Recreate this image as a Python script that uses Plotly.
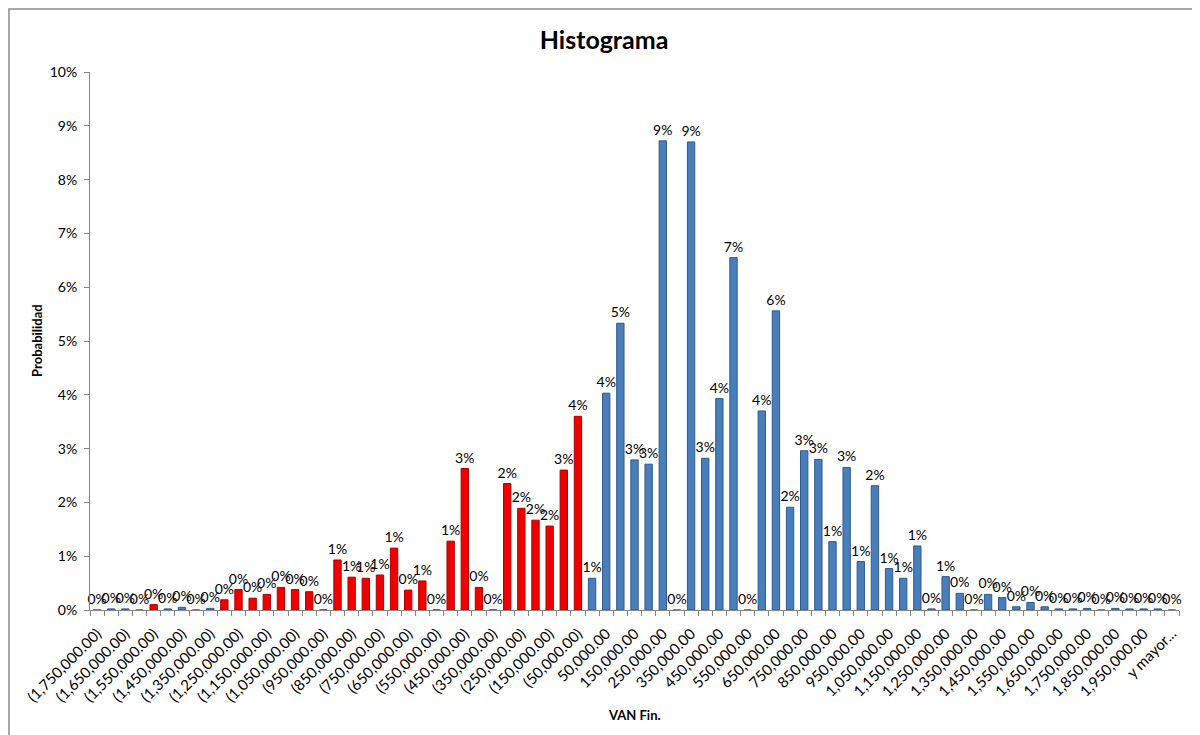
import plotly.graph_objects as go

# histogram bins (VAN Fin.), step 50,000, plus overflow bin
bin_values = list(range(-1750000, 2000001, 50000))


def fmt_bin(v):
    s = f"{abs(v):,.2f}"
    return f"({s})" if v < 0 else s


categories = [fmt_bin(v) for v in bin_values] + ["y mayor..."]

# probability per bin
probabilities = [
    0.0000, 0.0002, 0.0002, 0.0000, 0.0010, 0.0002, 0.0005, 0.0000, 0.0003, 0.0019,
    0.0038, 0.0022, 0.0029, 0.0042, 0.0038, 0.0034, 0.0000, 0.0093, 0.0061, 0.0059,
    0.0065, 0.0115, 0.0037, 0.0054, 0.0000, 0.0128, 0.0263, 0.0042, 0.0000, 0.0235,
    0.0189, 0.0167, 0.0156, 0.0260, 0.0360, 0.0059, 0.0403, 0.0533, 0.0279, 0.0271,
    0.0872, 0.0000, 0.0870, 0.0282, 0.0393, 0.0655, 0.0000, 0.0370, 0.0556, 0.0191,
    0.0296, 0.0280, 0.0127, 0.0265, 0.0090, 0.0231, 0.0077, 0.0059, 0.0119, 0.0002,
    0.0062, 0.0031, 0.0000, 0.0029, 0.0023, 0.0006, 0.0014, 0.0006, 0.0002, 0.0002,
    0.0003, 0.0000, 0.0003, 0.0002, 0.0002, 0.0002, 0.0000,
]

# bars highlighted in red
red_bins = [4] + list(range(9, 35))

BLUE, BLUE_EDGE = "#4A7EBB", "#2F5A8E"
RED, RED_EDGE = "#F00000", "#B00000"

colors = [RED if i in red_bins else BLUE for i in range(len(categories))]
edges = [RED_EDGE if i in red_bins else BLUE_EDGE for i in range(len(categories))]
tick_text = [c if i % 2 == 0 else "" for i, c in enumerate(categories)]

FONT = "Lato"

fig = go.Figure()
fig.add_trace(go.Bar(
    x=categories,
    y=probabilities,
    marker=dict(color=colors, line=dict(color=edges, width=1)),
    texttemplate="%{y:.0%}",
    textposition="outside",
    constraintext="none",
    cliponaxis=False,
    textfont=dict(family=FONT, size=14, color="#000000"),
))

fig.update_layout(
    width=1200,
    height=735,
    margin=dict(l=82, r=29, t=64, b=133),
    paper_bgcolor="white",
    plot_bgcolor="white",
    bargap=0.48,
    showlegend=False,
    font=dict(family=FONT, color="#000000"),
    title=dict(
        text="<b>Histograma</b>",
        x=0.4967, xref="container", xanchor="center",
        y=0.9565, yref="container", yanchor="middle",
        font=dict(family=FONT, size=25, color="#000000"),
    ),
    xaxis=dict(
        type="category",
        tickmode="array",
        tickvals=categories,
        ticktext=tick_text,
        tickangle=-45,
        tickson="boundaries",
        ticks="outside",
        ticklen=5,
        tickcolor="#868686",
        ticklabelstandoff=8,
        showline=True,
        linecolor="#868686",
        linewidth=1,
        showgrid=False,
        automargin=False,
        tickfont=dict(family=FONT, size=15),
    ),
    yaxis=dict(
        range=[0, 0.1],
        dtick=0.01,
        tickformat=".0%",
        ticks="outside",
        ticklen=5,
        tickcolor="#868686",
        ticklabelstandoff=4,
        showline=True,
        linecolor="#868686",
        linewidth=1,
        showgrid=False,
        zeroline=False,
        automargin=False,
        tickfont=dict(family=FONT, size=14),
    ),
)

# axis titles
fig.add_annotation(
    text="<b>VAN Fin.</b>", xref="paper", yref="paper", x=0.5, y=-0.195,
    showarrow=False, xanchor="center", yanchor="middle",
    font=dict(family=FONT, size=13),
)
fig.add_annotation(
    text="<b>Probabilidad</b>", xref="paper", yref="paper", x=-0.0487, y=0.502,
    showarrow=False, xanchor="center", yanchor="middle", textangle=-90,
    font=dict(family=FONT, size=13),
)

# outer chart border
fig.add_shape(
    type="rect", xref="paper", yref="paper",
    x0=-0.0744, x1=1.0129, y0=-0.3, y1=1.117,
    line=dict(color="#8C8C8C", width=1.5),
    fillcolor="rgba(0,0,0,0)",
    layer="below",
)

fig.write_html("out.html")
